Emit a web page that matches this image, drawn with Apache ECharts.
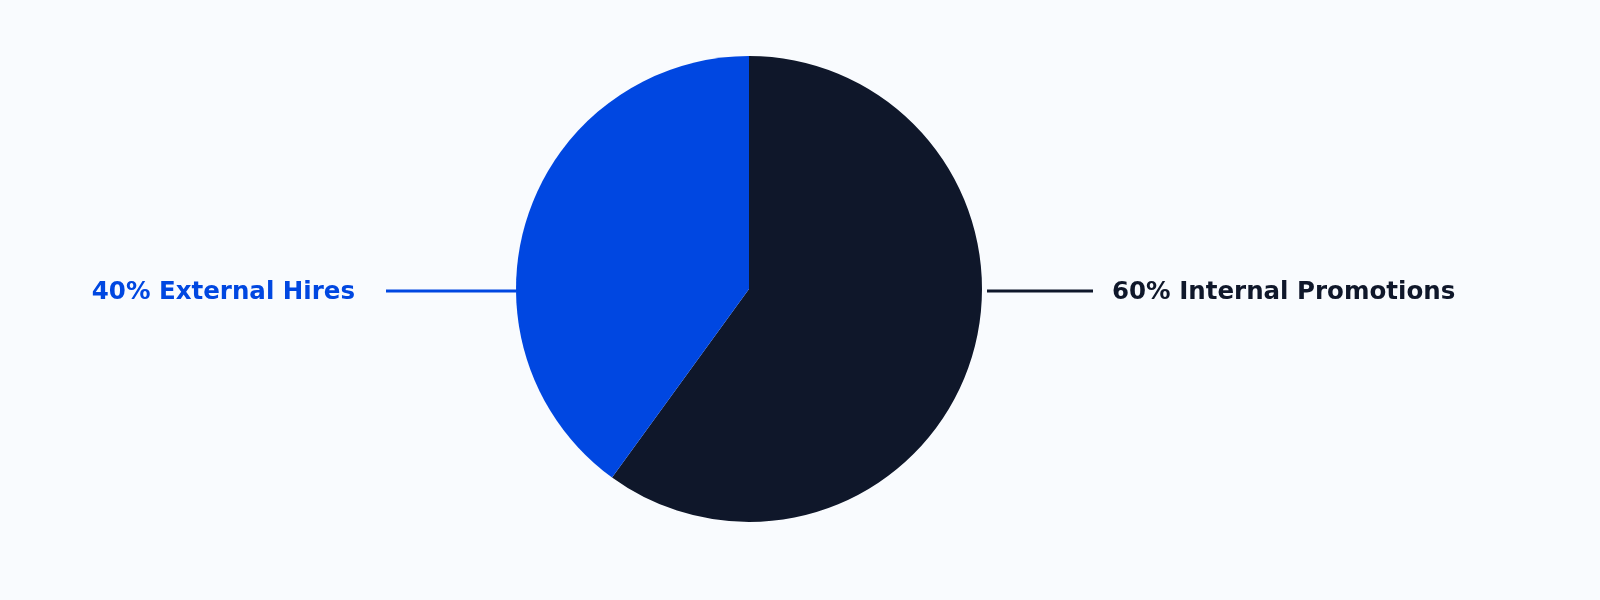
<!DOCTYPE html>
<html><head><meta charset="utf-8">
<script src="https://cdn.jsdelivr.net/npm/echarts@6/dist/echarts.min.js"></script>
<style>html,body{margin:0;padding:0;background:#F9FBFE;}#c{width:1600px;height:600px;}</style>
</head><body><div id="c"></div>
<script>
const categories = ['Internal Promotions', 'External Hires'];
const values = [60, 40];
const colors = ['#0F172A', '#0047E1'];

const chart = echarts.init(document.getElementById('c'));
const cx = 749, cy = 289, r = 233;
chart.setOption({
  backgroundColor: '#F9FBFE',
  animation: false,
  series: [{
    type: 'pie',
    center: [cx, cy],
    radius: [0, r],
    startAngle: 90,
    clockwise: true,
    data: categories.map((n, i) => ({ name: n, value: values[i], itemStyle: { color: colors[i] },
      label: { color: colors[i] } })),
    label: {
      show: true,
      position: 'outside',
      formatter: p => p.value + '% ' + p.name,
      fontFamily: 'DejaVu Sans',
      fontWeight: 'bold',
      fontSize: 24.5
    },
    labelLine: { show: true, length: 20, length2: 20, lineStyle: { width: 3 } },
    labelLayout: function (p) {
      const right = p.dataIndex === 0;
      const y = cy + 2;
      if (right) {
        return { x: cx + 363, y: y + 2, align: 'left', verticalAlign: 'middle',
          labelLinePoints: [[cx + 238, y], [cx + 344, y], [cx + 344, y]] };
      }
      return { x: cx - 394, y: y + 2, align: 'right', verticalAlign: 'middle',
        labelLinePoints: [[cx - 233, y], [cx - 363, y], [cx - 363, y]] };
    }
  }]
});
</script></body></html>
